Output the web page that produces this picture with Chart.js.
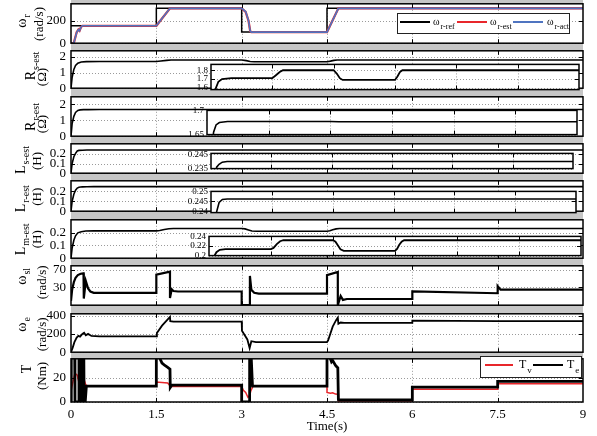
<!DOCTYPE html>
<html>
<head>
<meta charset="utf-8">
<script src="https://cdn.jsdelivr.net/npm/chart.js@4.4.0/dist/chart.umd.min.js"></script>
<style>
html, body { margin: 0; padding: 0; background: #fff; }
#wrap { position: relative; width: 597px; height: 436px; overflow: hidden; }
#wrap canvas { position: absolute; left: 0; }
#band { position: absolute; left: 71px; width: 512px; top: 0; height: 402px; background: #c6c6c6; }
</style>
</head>
<body>
<div id="wrap"><div id="band"></div></div>
<script>
const FONT = '"Liberation Serif", "Times New Roman", serif';
const RED = '#e8262b';
const BLUE = '#4f74c0';

const xTicks = [0, 1.5, 3, 4.5, 6, 7.5, 9];

// rotor speed (rad/s)
const tRef = [0, 1.5, 1.5, 3, 3, 4.5, 4.5, 9];
const wRef = [157, 157, 314, 314, 100, 100, 314, 314];
const tAct = [0, 0.05, 0.1, 0.13, 0.15, 0.175, 0.2, 1.5, 1.74, 3.0, 3.07, 3.12, 3.15, 3.17, 4.5, 4.7, 9];
const wAct = [0, 2, 97, 123, 110, 145, 157, 157, 314, 314, 285, 205, 110, 100, 100, 314, 314];
const tEst = [0, 0.05, 0.1, 0.13, 0.15, 0.175, 0.2, 1.5, 1.74, 3.0, 3.07, 3.12, 3.15, 3.17, 4.5, 4.7, 9];
const wEst = [0, 3, 99, 122, 112, 144, 157, 157, 314, 314, 283, 203, 108, 100, 100, 314, 314];

// stator resistance estimate
const tRs = [0, 0.02, 0.05, 0.08, 0.12, 0.18, 0.27, 0.5, 1.5, 1.58, 1.68, 1.76, 3.0, 3.08, 3.15, 3.22, 4.5, 4.56, 4.62, 4.68, 9];
const rs = [0, 0.7, 1.2, 1.45, 1.6, 1.67, 1.7, 1.71, 1.71, 1.74, 1.78, 1.8, 1.8, 1.76, 1.71, 1.69, 1.69, 1.73, 1.78, 1.8, 1.8];

// rotor resistance estimate
const tRr = [0, 0.02, 0.05, 0.08, 0.12, 0.16, 0.22, 0.3, 0.5, 3.0, 3.2, 9];
const rr = [0, 0.8, 1.25, 1.5, 1.62, 1.655, 1.67, 1.675, 1.677, 1.677, 1.6765, 1.6765];

// inductance estimates
const tLs = [0, 0.02, 0.05, 0.08, 0.11, 0.14, 0.2, 0.28, 0.4, 9];
const ls = [0, 0.1, 0.17, 0.205, 0.23, 0.236, 0.238, 0.2395, 0.24, 0.24];
const tLr = [0, 0.02, 0.05, 0.08, 0.11, 0.14, 0.2, 0.28, 0.4, 9];
const lr = [0, 0.1, 0.17, 0.21, 0.232, 0.24, 0.2445, 0.246, 0.2462, 0.2462];
const tLm = [0, 0.02, 0.05, 0.08, 0.12, 0.18, 0.26, 0.4, 1.5, 1.56, 1.64, 1.72, 1.8, 3.0, 3.06, 3.12, 3.18, 3.26, 4.5, 4.55, 4.6, 4.66, 4.72, 9];
const lm = [0, 0.08, 0.14, 0.175, 0.198, 0.207, 0.212, 0.2134, 0.2134, 0.216, 0.224, 0.23, 0.232, 0.232, 0.229, 0.221, 0.213, 0.21, 0.21, 0.214, 0.222, 0.229, 0.232, 0.232];

// slip speed
const tSl = [0, 0.02, 0.05, 0.08, 0.12, 0.17, 0.22, 0.225, 0.26, 0.3, 0.34, 0.4, 1.5, 1.5, 1.74, 1.74, 1.77, 1.8, 1.88, 3.0, 3.0, 3.14, 3.145, 3.17, 3.22, 3.3, 4.5, 4.5, 4.69, 4.69, 4.74, 4.78, 4.85, 6.0, 6.0, 7.5, 7.5, 7.55, 9];
const wsl = [0, 25, 42, 52, 58, 61, 62, 5, 45, 28, 21, 18, 18, 59, 66, 6, 26, 22, 21, 21, -10, -10, 56, 25, 18, 16, 16, 58, 65, -10, 11, 2, 4, 4, 21, 17, 33, 25, 25];

// synchronous speed
const tWe = [0, 0.03, 0.06, 0.1, 0.13, 0.16, 0.2, 0.23, 0.26, 0.3, 0.36, 0.5, 1.5, 1.51, 1.6, 1.74, 1.745, 1.8, 3.0, 3.005, 3.1, 3.14, 3.17, 3.25, 4.5, 4.52, 4.6, 4.66, 4.69, 4.7, 4.74, 4.8, 6.0, 6.0, 7.5, 9];
const we = [0, 50, 110, 160, 178, 170, 200, 212, 185, 200, 178, 172, 172, 210, 290, 385, 340, 335, 335, 235, 140, 45, 120, 110, 110, 130, 280, 350, 378, 310, 325, 320, 320, 345, 340, 340];

// torque
const tTv = [0, 0.04, 0.07, 0.11, 0.15, 0.19, 0.22, 0.26, 0.3, 1.5, 1.5, 1.7, 1.75, 3.0, 3.03, 3.07, 3.11, 3.14, 3.16, 3.2, 4.5, 4.5, 4.56, 4.6, 4.65, 4.7, 4.7, 6.0, 6.0, 7.5, 7.5, 9];
const tv = [9, 18, 23.5, 22, 14, 18, 20, 14, 13, 13, 16.4, 15.6, 12.8, 12.8, 9.6, 7.8, 3.9, 5.2, 9, 13, 13, 7.8, 7.2, 7.6, 6.5, 6.3, 0.8, 0.8, 10.5, 10.5, 15, 15];
const tTe = [0, 0.005, 0.065, 0.07, 0.135, 0.14, 0.16, 0.165, 0.205, 0.21, 0.225, 0.23, 0.25, 0.27, 1.5, 1.5, 1.56, 1.6, 1.65, 1.7, 1.74, 1.745, 1.77, 3.0, 3.0, 3.14, 3.14, 3.165, 3.19, 4.5, 4.5, 4.56, 4.58, 4.6, 4.65, 4.69, 4.7, 4.75, 6.0, 6.0, 7.5, 7.5, 9];
const te = [0, 40, 40, 0, 0, 40, 40, 0, 0, 40, 40, 0, 0, 13, 13, 40, 36, 32, 30, 28.5, 27, 12, 13.8, 13.8, 0, 0, 40, 40, 13, 13, 40, 35.5, 33, 34, 30, 28, 2, 1.8, 1.8, 12.2, 12.2, 17, 17];

const wrap = document.getElementById('wrap');

function rotLabel(ctx, L) {
  const fs = L.fs || 14;
  ctx.save();
  ctx.translate(L.x, L.y);
  ctx.rotate(-Math.PI / 2);
  ctx.fillStyle = '#000';
  ctx.textBaseline = 'middle';
  ctx.textAlign = 'left';
  const f1 = fs + 'px ' + FONT, f2 = Math.round(fs * 0.72) + 'px ' + FONT;
  ctx.font = f1;
  const w1 = ctx.measureText(L.m).width;
  let w2 = 0;
  if (L.s) { ctx.font = f2; w2 = ctx.measureText(L.s).width + 1; }
  const x0 = -(w1 + w2) / 2;
  ctx.font = f1;
  ctx.fillText(L.m, x0, 0);
  if (L.s) { ctx.font = f2; ctx.fillText(L.s, x0 + w1 + 1, fs * 0.35); }
  ctx.restore();
}

function drawLegend(ctx, L) {
  const [x1, y1, x2, y2] = L.box;
  ctx.fillStyle = '#fff';
  ctx.fillRect(x1, y1, x2 - x1, y2 - y1);
  ctx.strokeStyle = '#222';
  ctx.lineWidth = 1;
  ctx.strokeRect(x1 + 0.5, y1 + 0.5, x2 - x1, y2 - y1);
  L.items.forEach(it => {
    ctx.strokeStyle = it.c;
    ctx.lineWidth = 2;
    ctx.beginPath();
    ctx.moveTo(it.x1, it.y);
    ctx.lineTo(it.x2, it.y);
    ctx.stroke();
    ctx.fillStyle = '#000';
    ctx.textBaseline = 'middle';
    ctx.textAlign = 'left';
    ctx.font = L.fs + 'px ' + FONT;
    ctx.fillText(it.m, it.tx, it.y);
    const w = ctx.measureText(it.m).width;
    ctx.font = L.ss + 'px ' + FONT;
    ctx.fillText(it.s, it.tx + w + 1, it.y + L.fs * 0.45);
  });
}

function deco(spec, ctop) {
  return {
    id: 'deco',
    beforeDatasetsDraw(chart) {
      const { ctx, chartArea: a, scales: { x, y } } = chart;
      ctx.save();
      ctx.fillStyle = '#fff';
      ctx.fillRect(a.left, a.top, a.width, a.height);
      ctx.strokeStyle = '#9a9a9a';
      ctx.lineWidth = 1;
      ctx.setLineDash([1, 2]);
      ctx.beginPath();
      xTicks.slice(1, -1).forEach(v => {
        const px = Math.round(x.getPixelForValue(v)) + 0.5;
        ctx.moveTo(px, a.top); ctx.lineTo(px, a.bottom);
      });
      spec.yTicks.forEach(v => {
        const py = Math.round(y.getPixelForValue(v)) + 0.5;
        ctx.moveTo(a.left, py); ctx.lineTo(a.right, py);
      });
      ctx.stroke();
      ctx.restore();
    },
    afterDatasetsDraw(chart) {
      const { ctx, chartArea: a, scales: { x, y } } = chart;
      ctx.save();
      ctx.strokeStyle = '#000';
      ctx.lineWidth = 1;
      ctx.beginPath();
      xTicks.slice(1, -1).forEach(v => {
        const px = Math.round(x.getPixelForValue(v)) + 0.5;
        ctx.moveTo(px, a.top); ctx.lineTo(px, a.top + 4);
        ctx.moveTo(px, a.bottom); ctx.lineTo(px, a.bottom - 4);
      });
      spec.yTicks.forEach(v => {
        const py = Math.round(y.getPixelForValue(v)) + 0.5;
        if (py < a.top + 2 || py > a.bottom - 2) return;
        ctx.moveTo(a.left, py); ctx.lineTo(a.left + 4, py);
        ctx.moveTo(a.right, py); ctx.lineTo(a.right - 4, py);
      });
      ctx.stroke();
      ctx.lineWidth = 1.5;
      ctx.strokeRect(a.left, a.top, a.width, a.height);
      if (spec.legend) {
        ctx.translate(0, -ctop);
        drawLegend(ctx, spec.legend);
      }
      ctx.restore();
    },
    afterDraw(chart) {
      if (!spec.labels) return;
      const ctx = chart.ctx;
      ctx.save();
      ctx.translate(0, -ctop);
      spec.labels.forEach(L => rotLabel(ctx, L));
      ctx.restore();
    }
  };
}

function makeChart(spec) {
  const pad = spec.pad || 10;
  const xh = spec.xAxis ? 34 : 0;
  const ctop = spec.top - pad;
  const h = Math.round(spec.bottom - spec.top + pad + (spec.xAxis ? xh : pad));
  const c = document.createElement('canvas');
  c.width = 597;
  c.height = h;
  c.style.top = ctop + 'px';
  wrap.appendChild(c);
  const n = spec.sets.length;
  new Chart(c, {
    type: 'line',
    data: {
      datasets: spec.sets.map((d, i) => ({
        data: d[0].map((t, j) => ({ x: t, y: d[1][j] })),
        borderColor: d[2],
        borderWidth: d[3],
        pointRadius: 0,
        fill: false,
        tension: 0,
        order: n - i
      }))
    },
    options: {
      responsive: false,
      animation: false,
      devicePixelRatio: 1,
      events: [],
      layout: { padding: { top: pad, bottom: spec.xAxis ? 0 : pad, left: 0, right: 597 - spec.right } },
      plugins: { legend: { display: false }, tooltip: { enabled: false } },
      scales: {
        x: {
          type: 'linear', min: 0, max: 9,
          display: !!spec.xAxis,
          grid: { display: false, drawTicks: false },
          border: { display: false },
          afterBuildTicks: s => { s.ticks = xTicks.map(v => ({ value: v })); },
          ticks: { font: { family: FONT, size: 13 }, color: '#000', padding: 5, maxRotation: 0, autoSkip: false, callback: v => String(v) },
          title: { display: !!spec.xAxis, text: 'Time(s)', font: { family: FONT, size: 13 }, color: '#000', padding: { top: 0, bottom: 2 } },
          afterFit: s => { if (spec.xAxis) s.height = xh; }
        },
        y: {
          type: 'linear', min: spec.ymin, max: spec.ymax,
          grid: { display: false, drawTicks: false },
          border: { display: false },
          afterBuildTicks: s => { s.ticks = spec.yTicks.map(v => ({ value: v })); },
          ticks: { font: { family: FONT, size: spec.fs || 13 }, color: '#000', padding: spec.tp || 5, autoSkip: false, callback: v => String(v) },
          afterFit: s => { s.width = spec.left; }
        }
      }
    },
    plugins: [deco(spec, ctop)]
  });
}

const L0 = 71, R0 = 583;

// main panels
makeChart({ top: 1, bottom: 45.5, left: L0, right: R0, ymin: 0, ymax: 355, yTicks: [0, 200],
  sets: [[tRef, wRef, '#000', 1.5], [tEst, wEst, RED, 2.3], [tAct, wAct, BLUE, 1.6]],
  labels: [{ x: 22, y: 21, m: 'ω', s: 'r' }, { x: 40, y: 24, m: '(rad/s)', fs: 13 }],
  legend: { box: [397, 13, 569, 33], fs: 10, ss: 8, items: [
    { x1: 400, x2: 430, y: 22, c: '#000', tx: 433, m: 'ω', s: 'r-ref' },
    { x1: 457, x2: 487, y: 22, c: RED, tx: 490, m: 'ω', s: 'r-est' },
    { x1: 513, x2: 543, y: 22, c: BLUE, tx: 547, m: 'ω', s: 'r-act' }] } });

makeChart({ top: 48, bottom: 91, left: L0, right: R0, ymin: 0, ymax: 2.39, yTicks: [0, 1, 2],
  sets: [[tRs, rs, '#000', 1.6]],
  labels: [{ x: 31, y: 66, m: 'R', s: 's-est' }, { x: 43, y: 77, m: '(Ω)', fs: 13 }] });

makeChart({ top: 94, bottom: 139.3, left: L0, right: R0, ymin: 0, ymax: 2.48, yTicks: [0, 1, 2],
  sets: [[tRr, rr, '#000', 1.6]],
  labels: [{ x: 31, y: 117, m: 'R', s: 'r-est' }, { x: 43, y: 124, m: '(Ω)', fs: 13 }] });

makeChart({ top: 141, bottom: 176, left: L0, right: R0, ymin: 0, ymax: 0.304, yTicks: [0, 0.1, 0.2],
  sets: [[tLs, ls, '#000', 1.6]],
  labels: [{ x: 21, y: 160, m: 'L', s: 's-est' }, { x: 38, y: 161, m: '(H)', fs: 13 }] });

makeChart({ top: 178.3, bottom: 214.3, left: L0, right: R0, ymin: 0, ymax: 0.305, yTicks: [0, 0.1, 0.2],
  sets: [[tLr, lr, '#000', 1.6]],
  labels: [{ x: 21, y: 199, m: 'L', s: 'r-est' }, { x: 38, y: 197, m: '(H)', fs: 13 }] });

makeChart({ top: 216.7, bottom: 260.5, left: L0, right: R0, ymin: 0, ymax: 0.3, yTicks: [0, 0.1, 0.2],
  sets: [[tLm, lm, '#000', 1.6]],
  labels: [{ x: 21, y: 239, m: 'L', s: 'm-est' }, { x: 38, y: 239, m: '(H)', fs: 13 }] });

makeChart({ top: 262.7, bottom: 307.3, left: L0, right: R0, ymin: -10, ymax: 79, yTicks: [30, 70],
  sets: [[tSl, wsl, '#000', 2.2]],
  labels: [{ x: 22, y: 276, m: 'ω', s: 'sl' }, { x: 43, y: 282, m: '(rad/s)', fs: 13 }] });

makeChart({ top: 310.7, bottom: 354.3, left: L0, right: R0, ymin: 0, ymax: 420, yTicks: [0, 200, 400],
  sets: [[tWe, we, '#000', 1.8]],
  labels: [{ x: 22, y: 324, m: 'ω', s: 'e' }, { x: 43, y: 334, m: '(rad/s)', fs: 13 }] });

makeChart({ top: 356, bottom: 401.7, left: L0, right: R0, ymin: 0, ymax: 35.5, yTicks: [0, 20], xAxis: true,
  sets: [[tTv, tv, RED, 1.5], [tTe, te, '#000', 2.8]],
  labels: [{ x: 27, y: 369, m: 'T' }, { x: 43, y: 376, m: '(Nm)', fs: 13 }],
  legend: { box: [480, 356, 581, 377], fs: 12, ss: 9, items: [
    { x1: 485, x2: 513, y: 365, c: RED, tx: 519, m: 'T', s: 'v' },
    { x1: 533, x2: 563, y: 365, c: '#000', tx: 567, m: 'T', s: 'e' }] } });

// insets
makeChart({ top: 64, bottom: 90, left: 211, right: 579, pad: 8, fs: 9, tp: 3, ymin: 1.581, ymax: 1.866, yTicks: [1.6, 1.7, 1.8],
  sets: [[tRs, rs, '#000', 1.8]] });
makeChart({ top: 110, bottom: 134.5, left: 207, right: 577, pad: 8, fs: 9, tp: 3, ymin: 1.65, ymax: 1.7, yTicks: [1.65, 1.7],
  sets: [[tRr, rr, '#000', 1.6]] });
makeChart({ top: 153, bottom: 169, left: 211, right: 573, pad: 8, fs: 9, tp: 3, ymin: 0.235, ymax: 0.2456, yTicks: [0.235, 0.245],
  sets: [[tLs, ls, '#000', 1.6]] });
makeChart({ top: 191, bottom: 213, left: 211, right: 576, pad: 8, fs: 9, tp: 3, ymin: 0.2395, ymax: 0.25, yTicks: [0.24, 0.245, 0.25],
  sets: [[tLr, lr, '#000', 1.6]] });
makeChart({ top: 236, bottom: 256, left: 209, right: 581, pad: 8, fs: 9, tp: 3, ymin: 0.2, ymax: 0.24, yTicks: [0.2, 0.22, 0.24],
  sets: [[tLm, lm, '#000', 1.8]] });
</script>
</body>
</html>
